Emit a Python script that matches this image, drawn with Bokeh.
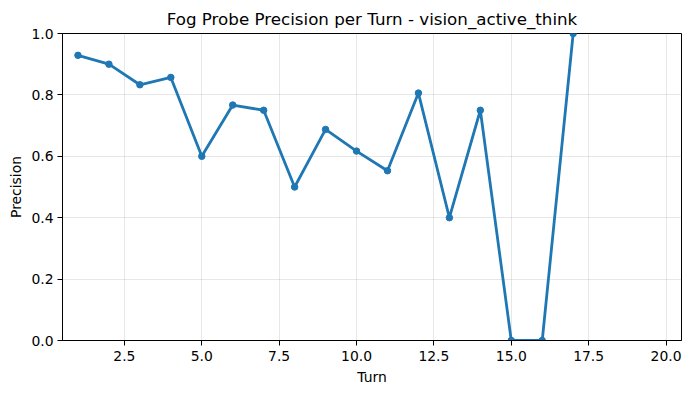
from bokeh.plotting import figure
from bokeh.models import FixedTicker, PrintfTickFormatter, Range1d
from bokeh.embed import file_html
from bokeh.resources import INLINE

turns = [1, 2, 3, 4, 5, 6, 7, 8, 9, 10, 11, 12, 13, 14, 15, 16, 17]
precision = [0.929, 0.9, 0.833, 0.857, 0.6, 0.767, 0.75, 0.5, 0.6875, 0.617,
             0.553, 0.806, 0.4, 0.75, 0.0, 0.0, 1.0]
x_ticks = [2.5, 5.0, 7.5, 10.0, 12.5, 15.0, 17.5, 20.0]
y_ticks = [0.0, 0.2, 0.4, 0.6, 0.8, 1.0]

FONT = "DejaVu Sans"
BLUE = "#1f77b4"

p = figure(width=691, height=393, output_backend="svg", toolbar_location=None,
           title="Fog Probe Precision per Turn - vision_active_think",
           x_range=Range1d(0.5, 20.5), y_range=Range1d(0.0, 1.0),
           min_border_left=62, min_border_right=10, min_border_top=33,
           min_border_bottom=53)

p.title.align = "center"
p.title.text_font = FONT
p.title.text_font_size = "16.7px"
p.title.text_font_style = "normal"
p.title.text_color = "black"

p.outline_line_color = "black"
p.outline_line_width = 1
p.outline_line_alpha = 1
p.background_fill_color = "white"
p.border_fill_color = "white"

for ax in (p.xaxis[0], p.yaxis[0]):
    ax.axis_line_color = "black"
    ax.major_tick_line_color = "black"
    ax.major_tick_out = 5
    ax.major_tick_in = 0
    ax.minor_tick_line_color = None
    ax.major_label_text_font = FONT
    ax.major_label_text_font_size = "13.9px"
    ax.major_label_text_color = "black"
    ax.axis_label_text_font = FONT
    ax.axis_label_text_font_size = "13.9px"
    ax.axis_label_text_font_style = "normal"
    ax.axis_label_text_color = "black"

p.xaxis.ticker = FixedTicker(ticks=x_ticks)
p.yaxis.ticker = FixedTicker(ticks=y_ticks)
p.xaxis.formatter = PrintfTickFormatter(format="%.1f")
p.yaxis.formatter = PrintfTickFormatter(format="%.1f")
p.xaxis.axis_label = "Turn"
p.yaxis.axis_label = "Precision"
p.xaxis.major_label_standoff = 5
p.yaxis.major_label_standoff = 4
p.xaxis.axis_label_standoff = 5
p.yaxis.axis_label_standoff = 4

p.xgrid.grid_line_color = "#b0b0b0"
p.ygrid.grid_line_color = "#b0b0b0"
p.xgrid.grid_line_alpha = 0.3
p.ygrid.grid_line_alpha = 0.3
p.xgrid.grid_line_width = 1
p.ygrid.grid_line_width = 1

p.line(turns, precision, line_color=BLUE, line_width=2.8)
p.scatter(turns, precision, size=6.5, fill_color=BLUE, line_color=BLUE)

open("out.html", "w").write(file_html(p, INLINE))
